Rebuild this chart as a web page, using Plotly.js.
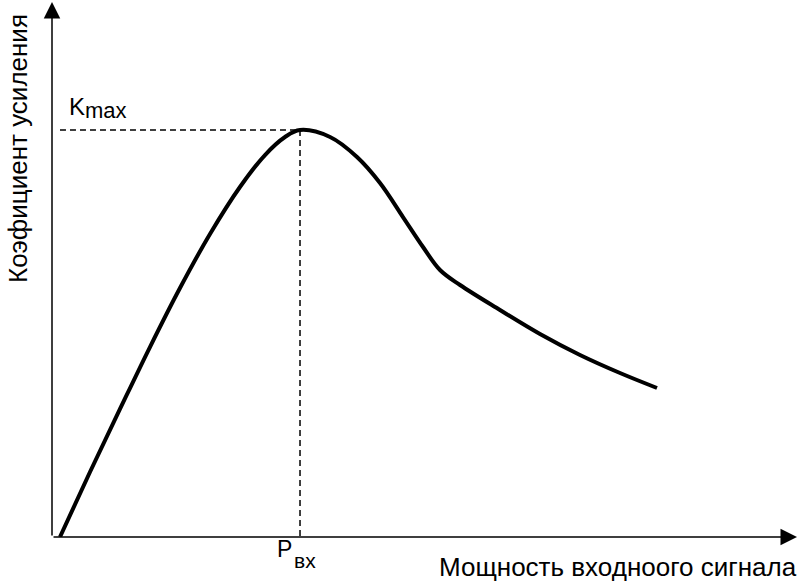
<!DOCTYPE html>
<html>
<head>
<meta charset="utf-8">
<script src="https://cdn.plot.ly/plotly-3.0.1.min.js"></script>
<style>html,body{margin:0;padding:0;background:#fff;}#chart{width:800px;height:585px;}</style>
</head>
<body>
<div id="chart"></div>
<script>
// Input power (arbitrary units) and gain (arbitrary units)
var power = [1.07, 5.10, 9.13, 13.15, 17.18, 21.21, 25.23, 28.59, 31.28, 33.29, 37.32, 40.94, 44.03, 47.11, 49.80, 52.08, 54.77, 60.13, 65.50, 70.87, 76.24, 81.21];
var gain  = [0.00, 12.15, 23.93, 35.51, 46.54, 56.64, 65.42, 71.40, 74.77, 76.07, 74.77, 71.03, 66.17, 59.81, 54.21, 49.91, 47.10, 42.43, 37.94, 34.02, 30.65, 27.85];

var xTitle = "Мощность входноого сигнала";
var yTitle = "Коэфициент усиления";
var peakLabelMain = "K", peakLabelSub = "max";
var powLabelMain = "P", powLabelSub = "вх";

// peak
var iMax = 0;
for (var i = 1; i < gain.length; i++) if (gain[i] > gain[iMax]) iMax = i;
var pX = power[iMax], pY = gain[iMax];

// pixel helpers for text placement (plot area 52..797 x 2..537), in paper units
function PX(px){ return (px - 52) / 745; }
function PY(py){ return (537 - py) / 535; }

var font = "Liberation Sans, Arial, sans-serif";

var trace = {
  x: power, y: gain, type: 'scatter', mode: 'lines',
  line: {color: '#000', width: 4, shape: 'spline', smoothing: 1.0},
  hoverinfo: 'skip'
};

function lbl(text, px, py, size, extra){
  var a = {x: PX(px), y: PY(py), xref: 'paper', yref: 'paper', text: text, showarrow: false,
    xanchor: 'left', yanchor: 'middle', font: {family: font, size: size, color: '#000'}};
  for (var k in (extra || {})) a[k] = extra[k];
  return a;
}

var layout = {
  width: 800, height: 585,
  margin: {l: 52, r: 3, t: 2, b: 48},
  paper_bgcolor: '#fff', plot_bgcolor: '#fff',
  showlegend: false,
  xaxis: {range: [0, 100], visible: false, fixedrange: true},
  yaxis: {range: [0, 100], visible: false, fixedrange: true},
  shapes: [
    {type: 'line', xref: 'x', yref: 'y', x0: power[0], y0: pY, x1: pX, y1: pY,
     line: {color: '#000', width: 1.5, dash: '6px,4px'}},
    {type: 'line', xref: 'x', yref: 'y', x0: pX, y0: pY, x1: pX, y1: 0,
     line: {color: '#000', width: 1.5, dash: '6px,4px'}}
  ],
  annotations: [
    // axes with arrows
    {x: 1, y: 0, ax: 0, ay: 0, xref: 'paper', yref: 'paper', axref: 'paper', ayref: 'paper',
     text: '', showarrow: true, arrowhead: 2, arrowsize: 2.2, arrowwidth: 1.5, arrowcolor: '#000', standoff: 0, startstandoff: 0},
    {x: 0, y: 1, ax: 0, ay: 0, xref: 'paper', yref: 'paper', axref: 'paper', ayref: 'paper',
     text: '', showarrow: true, arrowhead: 2, arrowsize: 2.2, arrowwidth: 1.5, arrowcolor: '#000', standoff: 0, startstandoff: 0},
    // labels
    lbl(peakLabelMain, 67, 106, 24),
    lbl(peakLabelSub, 83, 110.5, 22),
    lbl(powLabelMain, 275, 549, 23),
    lbl(powLabelSub, 292, 560, 21),
    lbl(xTitle, 437, 567, 26),
    lbl(yTitle, 18, 149, 26, {textangle: -90, xanchor: 'center'})
  ]
};

Plotly.newPlot('chart', [trace], layout, {staticPlot: true, displayModeBar: false});
</script>
</body>
</html>
